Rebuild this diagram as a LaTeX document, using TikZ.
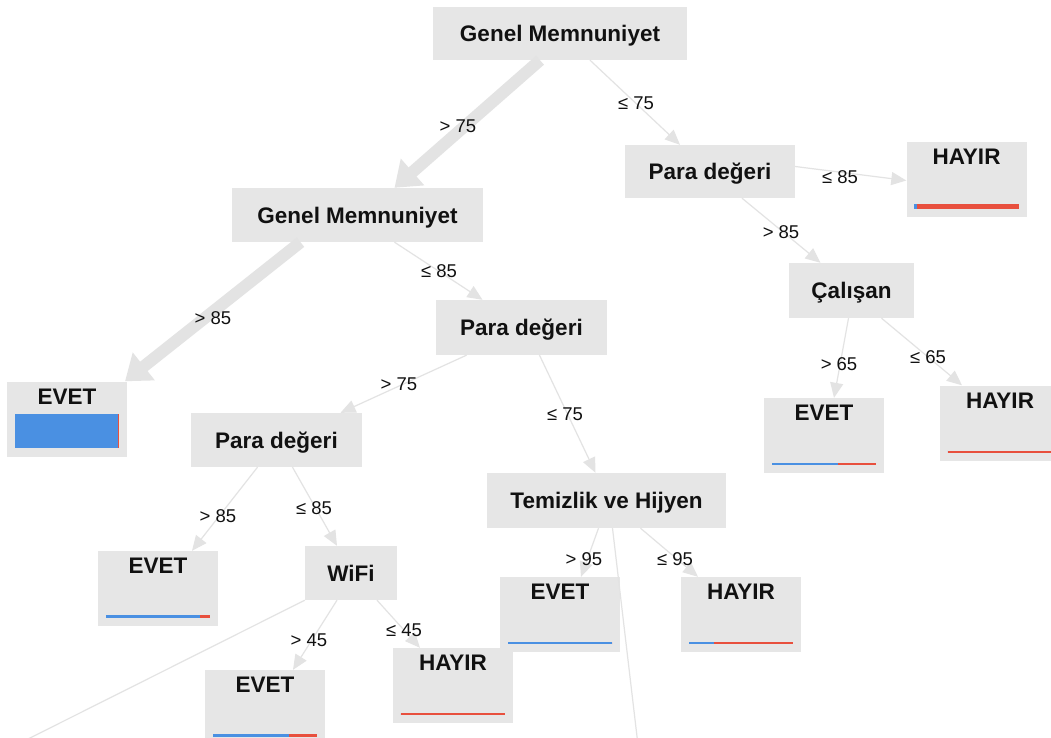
\documentclass[tikz,border=0pt]{standalone}
\usepackage{fontspec}
\setmainfont{Liberation Sans}
\usetikzlibrary{arrows.meta,calc}
\definecolor{boxgray}{HTML}{E6E6E6}
\definecolor{edgegray}{HTML}{E3E3E3}
\definecolor{evblue}{HTML}{4A90E2}
\definecolor{hyred}{HTML}{E8503E}
\definecolor{inkblack}{HTML}{111111}

\tikzset{
  split/.style={fill=boxgray, inner sep=0pt, text=inkblack,
    text height=18pt, text depth=2pt,
    font=\fontsize{22.5}{26}\selectfont\bfseries},
  leaf/.style={fill=boxgray, inner sep=0pt, minimum width=120pt, minimum height=75pt},
  leaftext/.style={text=inkblack, font=\fontsize{22.5}{26}\selectfont\bfseries,
    anchor=north, yshift=-4pt},
  cond/.style={text=inkblack, inner sep=1pt, font=\fontsize{18.5}{22}\selectfont},
  thinedge/.style={draw=edgegray, line width=1.2pt, -{Triangle[length=15pt,width=13pt]}},
  thickedge/.style={draw=edgegray, line width=12pt, -{Triangle[length=24pt,width=34pt]}},
  openedge/.style={draw=edgegray, line width=1.2pt},
}

% class bar at the foot of a leaf: node, blue share, thickness, offset from bottom
\newcommand\leafbar[4]{%
  \coordinate (bl) at ($(#1.south west)+(8,-#4)$);
  \coordinate (br) at ($(#1.south east)+(-8,-#4)$);
  \coordinate (bm) at ($(bl)!#2!(br)$);
  \fill[evblue] ($(bl)+(0,-#3/2)$) rectangle ($(bm)+(0,#3/2)$);
  \fill[hyred] ($(bm)+(0,-#3/2)$) rectangle ($(br)+(0,#3/2)$);
}

\begin{document}
\begin{tikzpicture}[x=1pt, y=-1pt]
\useasboundingbox[fill=white] (0,0) rectangle (1051,738);

% decision nodes
\node[split, minimum width=254pt, minimum height=53pt] (root)  at (560,33.5)  {Genel Memnuniyet};
\node[split, minimum width=170pt, minimum height=53pt] (paraR) at (710,171.5) {Para değeri};
\node[split, minimum width=251pt, minimum height=54pt] (gm)    at (357.5,215) {Genel Memnuniyet};
\node[split, minimum width=125pt, minimum height=55pt] (cal)   at (851.5,290.5) {Çalışan};
\node[split, minimum width=171pt, minimum height=55pt] (paraM) at (521.5,327.5) {Para değeri};
\node[split, minimum width=171pt, minimum height=54pt] (paraL) at (276.5,440) {Para değeri};
\node[split, minimum width=239pt, minimum height=55pt] (temiz) at (606.5,500.5) {Temizlik ve Hijyen};
\node[split, minimum width=92pt,  minimum height=54pt] (wifi)  at (351,573) {WiFi};

% leaves
\node[leaf, label={[leaftext]north:EVET}]  (evBig) at (67,419) {};
\node[leaf, label={[leaftext]north:HAYIR}] (hyR)   at (966.5,179.5) {};
\node[leaf, label={[leaftext]north:EVET}]  (evC)   at (824,435.5) {};
\node[leaf, label={[leaftext]north:HAYIR}] (hyC)   at (1000,423) {};
\node[leaf, label={[leaftext]north:EVET}]  (ev85)  at (158,588.5) {};
\node[leaf, label={[leaftext]north:EVET}]  (ev95)  at (560,614.5) {};
\node[leaf, label={[leaftext]north:HAYIR}] (hy95)  at (741,614.5) {};
\node[leaf, label={[leaftext]north:HAYIR}] (hy45)  at (453,685.5) {};
\node[leaf, label={[leaftext]north:EVET}]  (ev45)  at (265,707.5) {};

% class bars
\leafbar{evBig}{0.99}{34}{26}
\leafbar{hyR}{0.03}{5}{11}
\leafbar{evC}{0.635}{2}{9}
\leafbar{hyC}{0}{2}{9}
\leafbar{ev85}{0.9}{3}{10}
\leafbar{ev95}{1}{1.6}{9}
\leafbar{hy95}{0.24}{1.6}{9}
\leafbar{hy45}{0}{1.6}{9}
\leafbar{ev45}{0.73}{3}{10}

% branches
\draw[thickedge] ([xshift=-20pt]root.south) -- ([xshift=37pt]gm.north);
\draw[thinedge]  ([xshift=30pt]root.south)  -- ([xshift=-30pt]paraR.north);
\draw[thinedge]  ([yshift=5pt]paraR.east)   -- ([yshift=-1pt]hyR.west);
\draw[thinedge]  ([xshift=32pt]paraR.south) -- ([xshift=-31pt]cal.north);
\draw[thickedge] ([xshift=-57pt]gm.south)   -- ([xshift=58pt]evBig.north);
\draw[thinedge]  ([xshift=37pt]gm.south)    -- ([xshift=-39pt]paraM.north);
\draw[thinedge]  ([xshift=-55pt]paraM.south) -- ([xshift=64pt]paraL.north);
\draw[thinedge]  ([xshift=18pt]paraM.south) -- ([xshift=-11pt]temiz.north);
\draw[thinedge]  ([xshift=-3pt]cal.south)   -- ([xshift=10pt]evC.north);
\draw[thinedge]  ([xshift=30pt]cal.south)   -- ([xshift=-38pt]hyC.north);
\draw[thinedge]  ([xshift=-19pt]paraL.south) -- ([xshift=34pt]ev85.north);
\draw[thinedge]  ([xshift=16pt]paraL.south) -- ([xshift=-14pt]wifi.north);
\draw[thinedge]  ([xshift=-14pt]wifi.south) -- ([xshift=28pt]ev45.north);
\draw[thinedge]  ([xshift=26pt]wifi.south)  -- ([xshift=-33pt]hy45.north);
\draw[thinedge]  ([xshift=-8pt]temiz.south) -- ([xshift=21pt]ev95.north);
\draw[thinedge]  ([xshift=34pt]temiz.south) -- ([xshift=-43pt]hy95.north);

% branches leading below the page
\coordinate (wifiMore)  at (20,743);
\coordinate (temizMore) at (638,745);
\draw[openedge] (wifi.south west) -- (wifiMore);
\draw[openedge] ([xshift=6pt]temiz.south) -- (temizMore);

% split conditions
\node[cond] (c1)  at (458,126) {> 75};
\node[cond] (c2)  at (636,103) {≤ 75};
\node[cond] (c3)  at (840,177) {≤ 85};
\node[cond] (c4)  at (781,232) {> 85};
\node[cond] (c5)  at (213,318) {> 85};
\node[cond] (c6)  at (439,271) {≤ 85};
\node[cond] (c7)  at (399,384) {> 75};
\node[cond] (c8)  at (565,414) {≤ 75};
\node[cond] (c9)  at (839,364) {> 65};
\node[cond] (c10) at (928,357) {≤ 65};
\node[cond] (c11) at (218,516) {> 85};
\node[cond] (c12) at (314,508) {≤ 85};
\node[cond] (c13) at (309,640) {> 45};
\node[cond] (c14) at (404,630) {≤ 45};
\node[cond] (c15) at (584,559) {> 95};
\node[cond] (c16) at (675,559) {≤ 95};
\end{tikzpicture}
\end{document}
